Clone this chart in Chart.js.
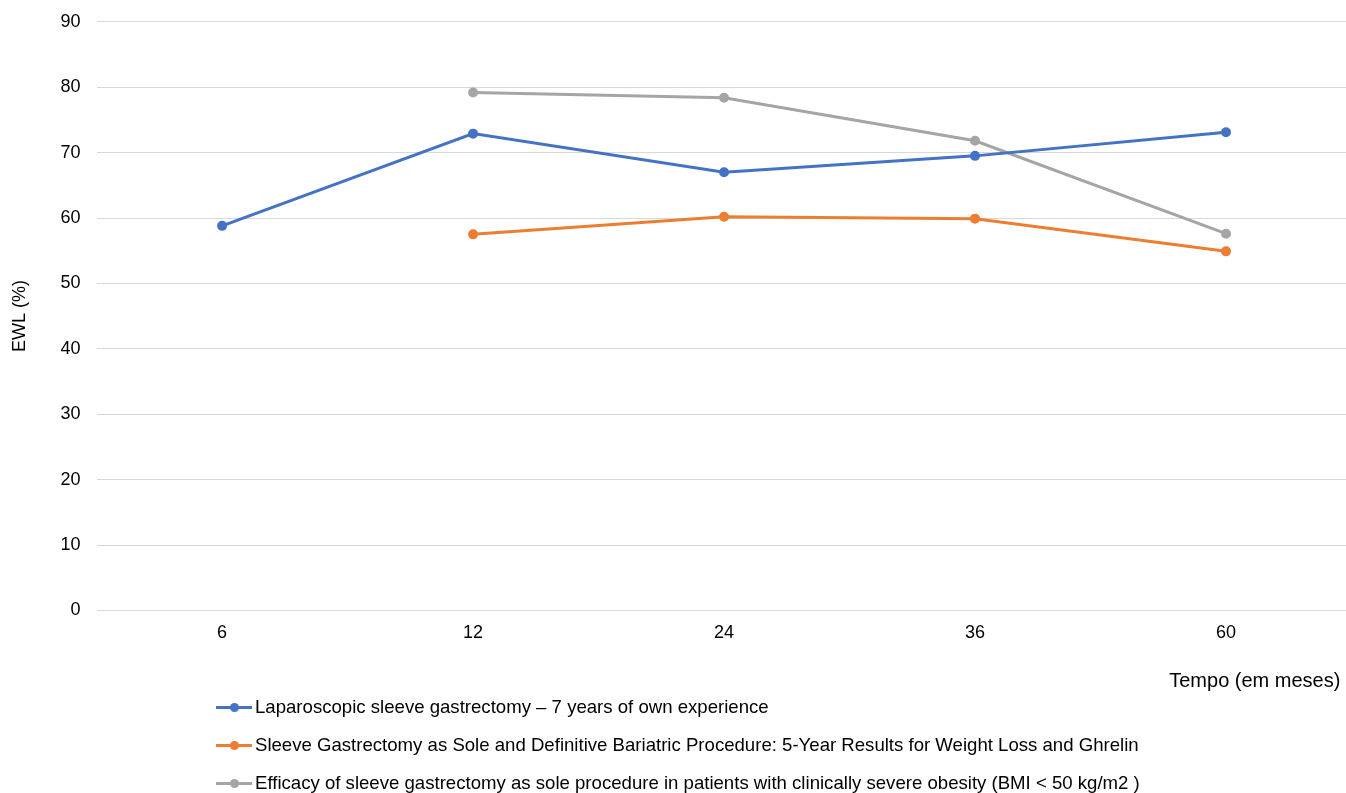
<!DOCTYPE html>
<html>
<head>
<meta charset="utf-8">
<script src="https://cdn.jsdelivr.net/npm/chart.js@4.4.1/dist/chart.umd.min.js"></script>
<style>
  html, body { margin: 0; padding: 0; background: #fff; overflow: hidden; }
  #wrap { position: relative; width: 1346px; height: 793px; overflow: hidden; }
  #ewlChart { position: absolute; left: 0; top: -5px; }
  #legend { position: absolute; left: 216px; top: 688px; font-family: "Liberation Sans", Arial, sans-serif; font-size: 18.6px; color: #000; }
  .item { display: flex; align-items: center; height: 38px; white-space: nowrap; }
  .swatch { position: relative; width: 36px; height: 3px; margin-right: 3px; }
  .swatch span { position: absolute; left: 14px; top: -3px; width: 9px; height: 9px; border-radius: 50%; }
</style>
</head>
<body>
<div id="wrap">
  <!-- canvas a bit bigger than the page so the plot runs to the edges like the original -->
  <canvas id="ewlChart" width="1358" height="798"></canvas>
  <div id="legend"></div>
</div>
<script>
// Data
const months = ["6", "12", "24", "36", "60"];
const ownExperience = [58.8, 72.9, 67.0, 69.5, 73.1];
const soleDefinitive = [null, 57.5, 60.2, 59.9, 54.9];
const severeObesity = [null, 79.2, 78.4, 71.8, 57.6];

const seriesNames = [
  "Laparoscopic sleeve gastrectomy \u2013 7 years of own experience",
  "Sleeve Gastrectomy as Sole and Definitive Bariatric Procedure: 5-Year Results for Weight Loss and Ghrelin",
  "Efficacy of sleeve gastrectomy as sole procedure in patients with clinically severe obesity (BMI < 50 kg/m2 )"
];
const seriesColors = ["#4472C4", "#ED7D31", "#A5A5A5"];

const fontFamily = '"Liberation Sans", Arial, sans-serif';

function makeDataset(i, values) {
  return {
    label: seriesNames[i],
    data: values,
    borderColor: seriesColors[i],
    backgroundColor: seriesColors[i],
    borderWidth: 3,
    pointRadius: 3.5,
    pointHoverRadius: 3.5,
    tension: 0
  };
}

const ctx = document.getElementById("ewlChart").getContext("2d");
const chart = new Chart(ctx, {
  type: "line",
  data: {
    labels: months,
    datasets: [
      makeDataset(0, ownExperience),
      makeDataset(1, soleDefinitive),
      makeDataset(2, severeObesity)
    ]
  },
  options: {
    responsive: false,
    animation: false,
    layout: { padding: { top: 6, right: 0, bottom: 100, left: 9 } },
    plugins: {
      legend: { display: false },
      tooltip: { enabled: false }
    },
    scales: {
      x: {
        offset: true,
        grid: { display: false },
        border: { display: false },
        ticks: { color: "#000", font: { family: fontFamily, size: 18 }, padding: 4 },
        title: {
          display: true,
          text: "Tempo (em meses)  ",
          align: "end",
          color: "#000",
          font: { family: fontFamily, size: 20 },
          padding: { top: 21, bottom: 0 }
        }
      },
      y: {
        min: 0,
        max: 90,
        ticks: { stepSize: 10, color: "#000", font: { family: fontFamily, size: 18 }, padding: 16 },
        grid: { color: "#D9D9D9", lineWidth: 1, drawTicks: false },
        border: { display: false },
        title: {
          display: true,
          text: "EWL (%)",
          color: "#000",
          font: { family: fontFamily, size: 18 },
          padding: { top: 0, bottom: 14 }
        }
      }
    }
  }
});

// HTML legend built from the datasets
const legendEl = document.getElementById("legend");
chart.data.datasets.forEach((ds) => {
  const item = document.createElement("div");
  item.className = "item";
  const sw = document.createElement("div");
  sw.className = "swatch";
  sw.style.background = ds.borderColor;
  const dot = document.createElement("span");
  dot.style.background = ds.borderColor;
  sw.appendChild(dot);
  const txt = document.createElement("div");
  txt.textContent = ds.label;
  item.appendChild(sw);
  item.appendChild(txt);
  legendEl.appendChild(item);
});
</script>
</body>
</html>
